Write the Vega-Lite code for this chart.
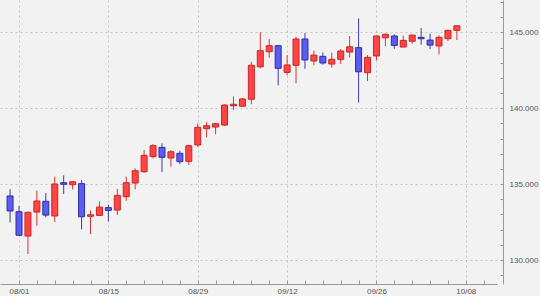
{
  "$schema": "https://vega.github.io/schema/vega-lite/v6.json",
  "width": 497,
  "height": 284,
  "autosize": {"type": "none"},
  "padding": {"left": 0, "top": 0, "right": 43, "bottom": 12},
  "background": "#f2f2f2",
  "config": {"view": {"stroke": null}},
  "data": {"values": [
    {"i":0,"d":"07/29","o":134.22,"h":134.66,"l":132.48,"c":133.23},
    {"i":1,"d":"08/01","o":133.18,"h":133.56,"l":131.60,"c":131.63},
    {"i":2,"d":"08/02","o":131.58,"h":133.20,"l":130.40,"c":133.14},
    {"i":3,"d":"08/03","o":133.16,"h":134.57,"l":132.26,"c":133.89},
    {"i":4,"d":"08/04","o":133.87,"h":134.41,"l":132.81,"c":132.96},
    {"i":5,"d":"08/05","o":132.90,"h":135.49,"l":132.50,"c":135.01},
    {"i":6,"d":"08/08","o":135.09,"h":135.58,"l":134.35,"c":134.99},
    {"i":7,"d":"08/09","o":134.96,"h":135.18,"l":134.66,"c":135.16},
    {"i":8,"d":"08/10","o":135.03,"h":135.27,"l":132.02,"c":132.85},
    {"i":9,"d":"08/11","o":132.88,"h":133.27,"l":131.71,"c":132.98},
    {"i":10,"d":"08/12","o":132.94,"h":133.87,"l":132.90,"c":133.49},
    {"i":11,"d":"08/15","o":133.45,"h":133.64,"l":132.55,"c":133.27},
    {"i":12,"d":"08/16","o":133.29,"h":134.68,"l":132.96,"c":134.26},
    {"i":13,"d":"08/17","o":134.17,"h":135.49,"l":133.91,"c":135.09},
    {"i":14,"d":"08/18","o":135.07,"h":136.04,"l":134.66,"c":135.88},
    {"i":15,"d":"08/19","o":135.82,"h":137.25,"l":135.73,"c":136.90},
    {"i":16,"d":"08/22","o":136.81,"h":137.64,"l":136.70,"c":137.53},
    {"i":17,"d":"08/23","o":137.42,"h":137.69,"l":135.80,"c":136.77},
    {"i":18,"d":"08/24","o":136.72,"h":137.23,"l":136.15,"c":137.13},
    {"i":19,"d":"08/25","o":137.03,"h":137.20,"l":136.32,"c":136.48},
    {"i":20,"d":"08/26","o":136.50,"h":137.60,"l":136.26,"c":137.53},
    {"i":21,"d":"08/29","o":137.58,"h":139.00,"l":137.46,"c":138.74},
    {"i":22,"d":"08/30","o":138.65,"h":139.09,"l":138.08,"c":138.85},
    {"i":23,"d":"08/31","o":138.76,"h":139.04,"l":138.28,"c":138.98},
    {"i":24,"d":"09/01","o":138.89,"h":140.26,"l":138.83,"c":140.21},
    {"i":25,"d":"09/02","o":140.16,"h":140.78,"l":139.88,"c":140.26},
    {"i":26,"d":"09/05","o":140.13,"h":140.67,"l":140.10,"c":140.61},
    {"i":27,"d":"09/06","o":140.59,"h":143.06,"l":140.26,"c":142.83},
    {"i":28,"d":"09/07","o":142.73,"h":145.00,"l":142.63,"c":143.79},
    {"i":29,"d":"09/08","o":143.72,"h":144.56,"l":143.33,"c":144.12},
    {"i":30,"d":"09/09","o":144.12,"h":144.15,"l":141.51,"c":142.63},
    {"i":31,"d":"09/12","o":142.36,"h":143.50,"l":142.17,"c":142.85},
    {"i":32,"d":"09/13","o":142.83,"h":144.71,"l":141.64,"c":144.56},
    {"i":33,"d":"09/14","o":144.56,"h":144.95,"l":142.60,"c":143.18},
    {"i":34,"d":"09/15","o":143.11,"h":143.79,"l":142.83,"c":143.50},
    {"i":35,"d":"09/16","o":143.42,"h":143.68,"l":142.87,"c":142.98},
    {"i":36,"d":"09/19","o":142.91,"h":143.66,"l":142.67,"c":143.22},
    {"i":37,"d":"09/20","o":143.22,"h":143.90,"l":142.93,"c":143.77},
    {"i":38,"d":"09/21","o":143.70,"h":144.76,"l":143.35,"c":144.05},
    {"i":39,"d":"09/22","o":143.99,"h":145.92,"l":140.39,"c":142.40},
    {"i":40,"d":"09/23","o":142.34,"h":143.50,"l":141.79,"c":143.35},
    {"i":41,"d":"09/26","o":143.44,"h":144.80,"l":143.16,"c":144.76},
    {"i":42,"d":"09/27","o":144.64,"h":144.93,"l":144.08,"c":144.87},
    {"i":43,"d":"09/28","o":144.76,"h":144.87,"l":143.92,"c":144.14},
    {"i":44,"d":"09/29","o":144.03,"h":144.78,"l":144.03,"c":144.47},
    {"i":45,"d":"09/30","o":144.41,"h":144.84,"l":144.25,"c":144.82},
    {"i":46,"d":"10/03","o":144.67,"h":145.28,"l":144.18,"c":144.58},
    {"i":47,"d":"10/04","o":144.49,"h":144.91,"l":143.90,"c":144.16},
    {"i":48,"d":"10/05","o":144.10,"h":144.80,"l":143.55,"c":144.67},
    {"i":49,"d":"10/06","o":144.58,"h":145.17,"l":144.43,"c":145.13},
    {"i":50,"d":"10/07","o":145.13,"h":145.46,"l":144.49,"c":145.43}
  ]},
  "encoding": {
    "x": {
      "field": "i",
      "type": "quantitative",
      "scale": {"domain": [-0.568, 53.93], "nice": false, "zero": false},
      "axis": {
        "title": null,
        "tickCount": 200,
        "values": [1,3,5,7,9,11,13,15,17,19,21,23,25,27,29,31,33,35,37,39,41,43,45,47,49,51,53],
        "labelExpr": "(datum.value - 1) % 10 == 0 ? ['08/01','08/15','08/29','09/12','09/26','10/08'][(datum.value - 1) / 10] : ''",
        "labelFlush": false,
        "labelOverlap": false,
        "labelFont": "Liberation Sans",
        "labelFontSize": 8,
        "labelColor": "#555555",
        "labelPadding": 7,
        "tickSize": -4,
        "tickColor": "#999999",
        "domainColor": "#999999",
        "grid": true,
        "gridColor": "#c4c4c4",
        "gridDash": [2, 3],
        "gridOpacity": {"condition": {"test": "(datum.value - 1) % 10 == 0", "value": 1}, "value": 0}
      }
    }
  },
  "layer": [
    {
      "mark": {"type": "rule", "strokeWidth": 1},
      "encoding": {
        "y": {
          "field": "l",
          "type": "quantitative",
          "scale": {"domain": [128.42, 147.13], "nice": false, "zero": false},
          "axis": {
            "title": null,
            "orient": "right",
            "offset": 6,
            "tickCount": 200,
            "values": [129,130,131,132,133,134,135,136,137,138,139,140,141,142,143,144,145,146,147],
            "labelExpr": "datum.value % 5 == 0 ? format(datum.value, '.3f') : ''",
            "labelFont": "Liberation Sans",
            "labelFontSize": 8,
            "labelColor": "#555555",
            "labelPadding": 9,
            "labelOverlap": false,
            "labelFlush": false,
            "tickSize": -3,
            "tickColor": "#999999",
            "domainColor": "#999999",
            "grid": true,
            "gridColor": "#c4c4c4",
            "gridDash": [2, 3],
            "gridOpacity": {"condition": {"test": "datum.value % 5 == 0", "value": 1}, "value": 0}
          }
        },
        "y2": {"field": "h"},
        "stroke": {"condition": {"test": "datum.c >= datum.o", "value": "#dd3333"}, "value": "#3a3ab4"}
      }
    },
    {
      "mark": {"type": "bar", "width": 6, "strokeWidth": 1},
      "encoding": {
        "y": {"field": "o", "type": "quantitative"},
        "y2": {"field": "c"},
        "fill": {"condition": {"test": "datum.c >= datum.o", "value": "#ff4545"}, "value": "#5c5cf0"},
        "stroke": {"condition": {"test": "datum.c >= datum.o", "value": "#cc2525"}, "value": "#2c2ca8"}
      }
    }
  ]
}
